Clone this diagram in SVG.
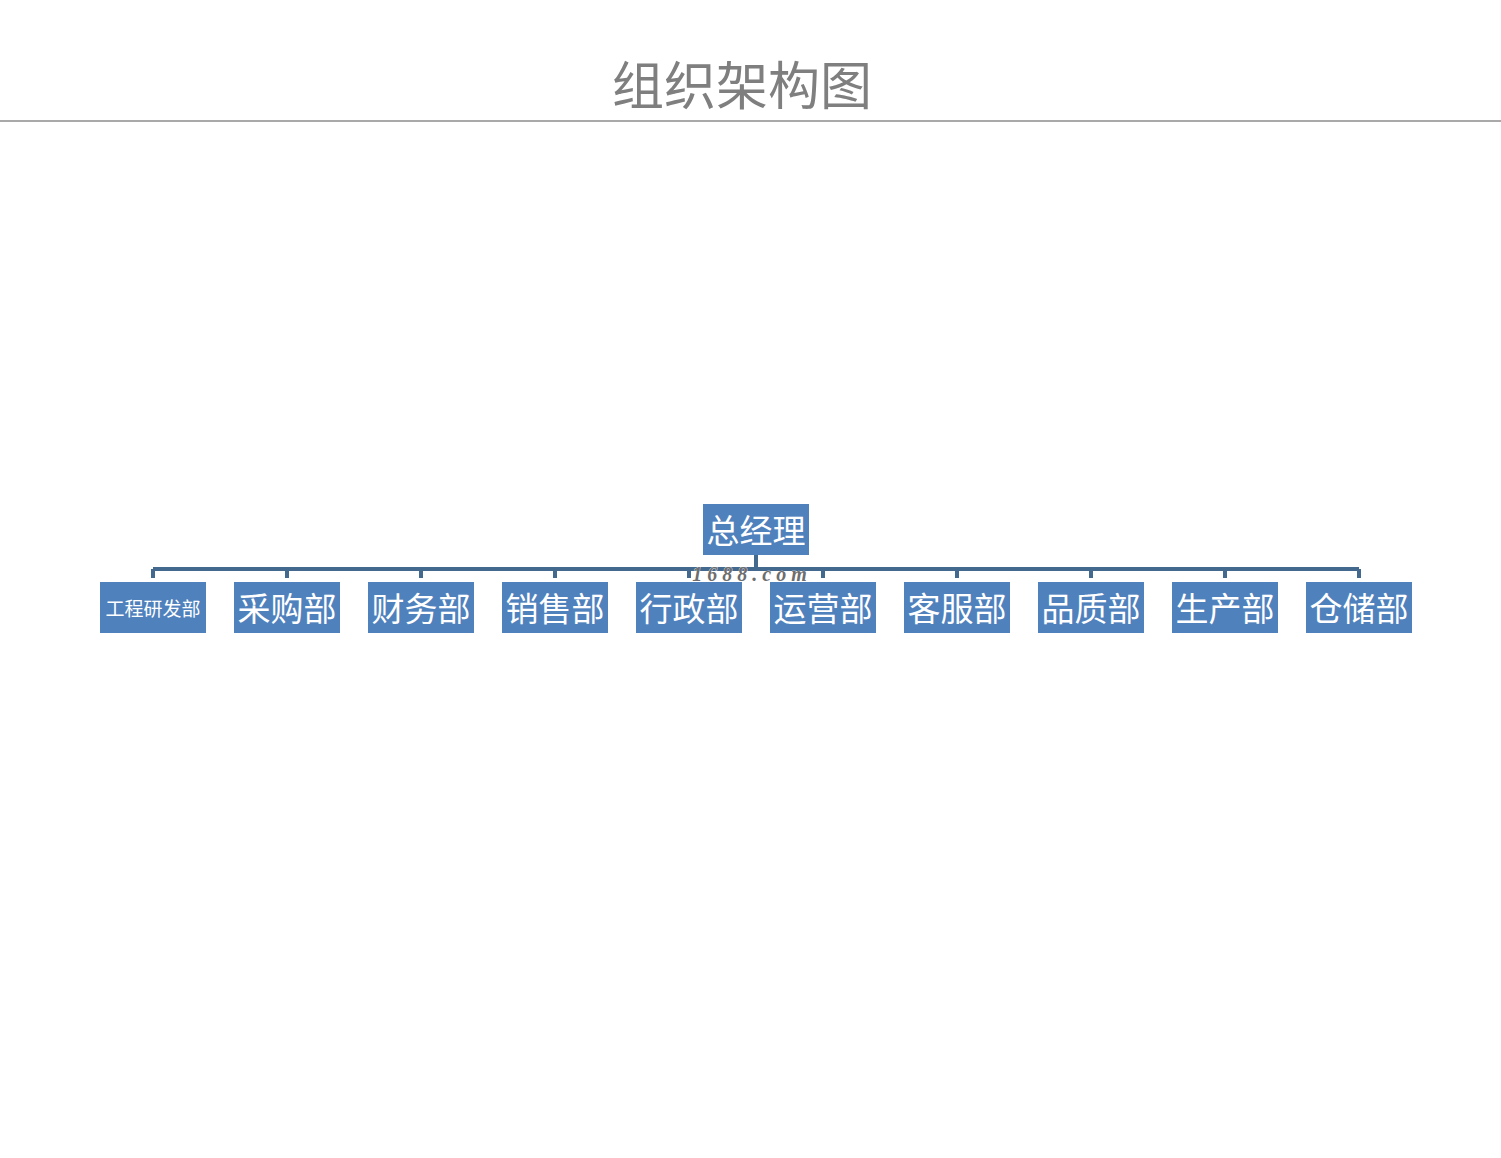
<svg xmlns="http://www.w3.org/2000/svg" width="1501" height="1158" viewBox="0 0 1501 1158">
<style>
.box{fill:#4f81bd}
.lbl{fill:#ffffff;font-family:"Noto Sans CJK SC","Noto Sans",sans-serif;font-size:33px;text-anchor:middle;dominant-baseline:central}
.sm{font-size:19px}
.conn{stroke:#44698f;stroke-width:4;fill:none}
</style>
<rect width="1501" height="1158" fill="#ffffff"/>
<text x="742" y="82" fill="#7f7f7f" font-family="Noto Sans CJK SC,sans-serif" font-size="52" text-anchor="middle" dominant-baseline="central">组织架构图</text>
<line x1="0" y1="121" x2="1501" y2="121" stroke="#8c8c8c" stroke-width="1.5"/>
<g id="connectors">
<path class="conn" d="M756 555V569M153 569H1359M153 569V578M287 569V578M421 569V578M555 569V578M689 569V578M823 569V578M957 569V578M1091 569V578M1225 569V578M1359 569V578"/>
</g>
<g id="n0"><rect class="box" x="703" y="504" width="106" height="51"/><text class="lbl" x="756" y="529">总经理</text></g>
<g id="n1"><rect class="box" x="100" y="582" width="106" height="51"/><text class="lbl sm" x="153" y="607">工程研发部</text></g>
<g id="n2"><rect class="box" x="234" y="582" width="106" height="51"/><text class="lbl" x="287" y="607">采购部</text></g>
<g id="n3"><rect class="box" x="368" y="582" width="106" height="51"/><text class="lbl" x="421" y="607">财务部</text></g>
<g id="n4"><rect class="box" x="502" y="582" width="106" height="51"/><text class="lbl" x="555" y="607">销售部</text></g>
<g id="n5"><rect class="box" x="636" y="582" width="106" height="51"/><text class="lbl" x="689" y="607">行政部</text></g>
<g id="n6"><rect class="box" x="770" y="582" width="106" height="51"/><text class="lbl" x="823" y="607">运营部</text></g>
<g id="n7"><rect class="box" x="904" y="582" width="106" height="51"/><text class="lbl" x="957" y="607">客服部</text></g>
<g id="n8"><rect class="box" x="1038" y="582" width="106" height="51"/><text class="lbl" x="1091" y="607">品质部</text></g>
<g id="n9"><rect class="box" x="1172" y="582" width="106" height="51"/><text class="lbl" x="1225" y="607">生产部</text></g>
<g id="n10"><rect class="box" x="1306" y="582" width="106" height="51"/><text class="lbl" x="1359" y="607">仓储部</text></g>
<text x="752" y="574" fill="#6e6e6e" stroke="#ffffff" stroke-width="0.6" paint-order="stroke" font-family="Liberation Serif,serif" font-style="italic" font-weight="bold" font-size="20" letter-spacing="5" text-anchor="middle" dominant-baseline="central">1688.com</text>
</svg>
